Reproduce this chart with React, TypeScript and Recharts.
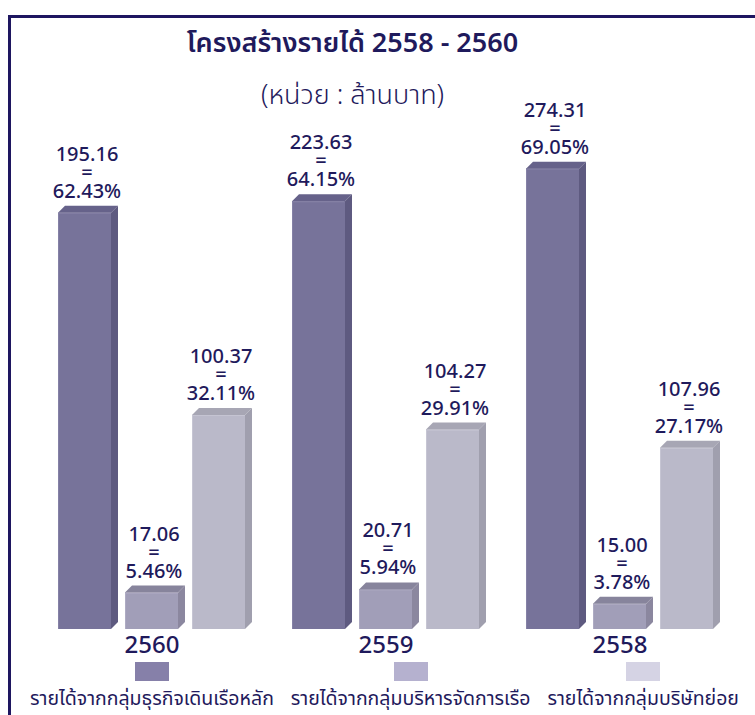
import React from 'react';
import { BarChart, Bar, XAxis, YAxis, LabelList } from 'recharts';

const years = ['2560', '2559', '2558'];
const mainRevenue = [195.16, 223.63, 274.31];
const mainPct = [62.43, 64.15, 69.05];
const shipMgmtRevenue = [17.06, 20.71, 15.0];
const shipMgmtPct = [5.46, 5.94, 3.78];
const subsidiaryRevenue = [100.37, 104.27, 107.96];
const subsidiaryPct = [32.11, 29.91, 27.17];

const seriesNames = [
  'รายได้จากกลุ่มธุรกิจเดินเรือหลัก',
  'รายได้จากกลุ่มบริหารจัดการเรือ',
  'รายได้จากกลุ่มบริษัทย่อย',
];
const titleText = 'โครงสร้างรายได้ 2558 - 2560';
const subtitleText = '(หน่วย : ล้านบาท)';

const data = years.map((y, i) => ({
  year: y,
  main: mainPct[i],
  ship: shipMgmtPct[i],
  sub: subsidiaryPct[i],
}));

const TEXT = '#1f1a5c';
const FONT = "Tahoma, 'Noto Sans Thai', 'Noto Sans', 'DejaVu Sans', sans-serif";
const DEPTH = 7;

const palettes = [
  { front: '#77739a', top: '#66628a', side: '#5e5a80', edge: '#8581a6', legend: '#8680a9' },
  { front: '#a19eb8', top: '#87849c', side: '#8b879f', edge: '#aeabc3', legend: '#b5b1cf' },
  { front: '#bab9c9', top: '#a7a6b4', side: '#a09fae', edge: '#c6c5d3', legend: '#d5d3e4' },
];

const make3D = (p: { front: string; top: string; side: string; edge: string }) => (props: any) => {
  const { x, y, width, height } = props;
  if (width == null || height == null) return null;
  const fw = width - DEPTH;
  const topPts = `${x},${y} ${x + DEPTH},${y - DEPTH} ${x + width},${y - DEPTH} ${x + fw},${y}`;
  const sidePts = `${x + fw},${y} ${x + width},${y - DEPTH} ${x + width},${y + height - DEPTH} ${x + fw},${y + height}`;
  return (
    <g>
      <rect x={x} y={y} width={fw} height={height} fill={p.front} />
      <rect x={x} y={y} width={1} height={height} fill={p.edge} />
      <rect x={x} y={y} width={fw} height={1} fill={p.edge} />
      <polygon points={topPts} fill={p.top} />
      <polygon points={sidePts} fill={p.side} />
    </g>
  );
};

const makeLabel = (amounts: number[]) => (props: any) => {
  const { x, y, width, value, index } = props;
  const cx = x + width / 2 - 1;
  return (
    <text x={cx} textAnchor="middle" fill={TEXT} fontFamily={FONT} fontSize={20} fontWeight={500}>
      <tspan x={cx} y={y - 52}>{amounts[index].toFixed(2)}</tspan>
      <tspan x={cx} y={y - 34}>=</tspan>
      <tspan x={cx} y={y - 15}>{Number(value).toFixed(2)}%</tspan>
    </text>
  );
};

const YearTick = (props: any) => {
  const { x, y, payload } = props;
  return (
    <text x={x - 3} y={y + 16} textAnchor="middle" fill={TEXT} fontFamily={FONT} fontSize={24} fontWeight={500}>
      {payload.value}
    </text>
  );
};

export default function App() {
  return (
    <div style={{ position: 'absolute', left: 0, top: 0, width: 755, height: 715, background: '#fff', overflow: 'hidden' }}>
      <div
        style={{
          position: 'absolute',
          left: 8,
          top: 15,
          width: 760,
          height: 720,
          borderLeft: '3px solid #1e1660',
          borderTop: '3px solid #1e1660',
          boxSizing: 'border-box',
        }}
      />
      <div style={{ position: 'absolute', left: 0, top: 0 }}>
        <BarChart
          width={755}
          height={715}
          data={data}
          margin={{ top: 129, right: 15, bottom: 56, left: 38 }}
          barGap={7}
        >
          <XAxis dataKey="year" axisLine={false} tickLine={false} tick={<YearTick />} height={30} interval={0} />
          <YAxis hide domain={[0, 75]} />
          <Bar dataKey="main" barSize={60} isAnimationActive={false} shape={make3D(palettes[0])}>
            <LabelList dataKey="main" content={makeLabel(mainRevenue)} />
          </Bar>
          <Bar dataKey="ship" barSize={60} isAnimationActive={false} shape={make3D(palettes[1])}>
            <LabelList dataKey="ship" content={makeLabel(shipMgmtRevenue)} />
          </Bar>
          <Bar dataKey="sub" barSize={60} isAnimationActive={false} shape={make3D(palettes[2])}>
            <LabelList dataKey="sub" content={makeLabel(subsidiaryRevenue)} />
          </Bar>
        </BarChart>
      </div>
      <div
        style={{
          position: 'absolute',
          left: 0,
          width: 705,
          top: 25,
          textAlign: 'center',
          fontFamily: FONT,
          fontSize: 27,
          fontWeight: 600,
          color: TEXT,
          lineHeight: '38px',
        }}
      >
        {titleText}
      </div>
      <div
        style={{
          position: 'absolute',
          left: 0,
          width: 705,
          top: 78,
          textAlign: 'center',
          fontFamily: FONT,
          fontSize: 27,
          fontWeight: 300,
          color: TEXT,
          lineHeight: '36px',
        }}
      >
        {subtitleText}
      </div>
      <div
        style={{
          position: 'absolute',
          left: 30,
          top: 662,
          display: 'flex',
          gap: 17,
          fontFamily: FONT,
          fontSize: 19.5,
          color: TEXT,
        }}
      >
        {seriesNames.map((name, i) => (
          <div key={name} style={{ display: 'flex', flexDirection: 'column', alignItems: 'center' }}>
            <div style={{ width: 34, height: 19, background: palettes[i].legend }} />
            <div style={{ marginTop: 5, lineHeight: '26px', whiteSpace: 'nowrap' }}>{name}</div>
          </div>
        ))}
      </div>
    </div>
  );
}
